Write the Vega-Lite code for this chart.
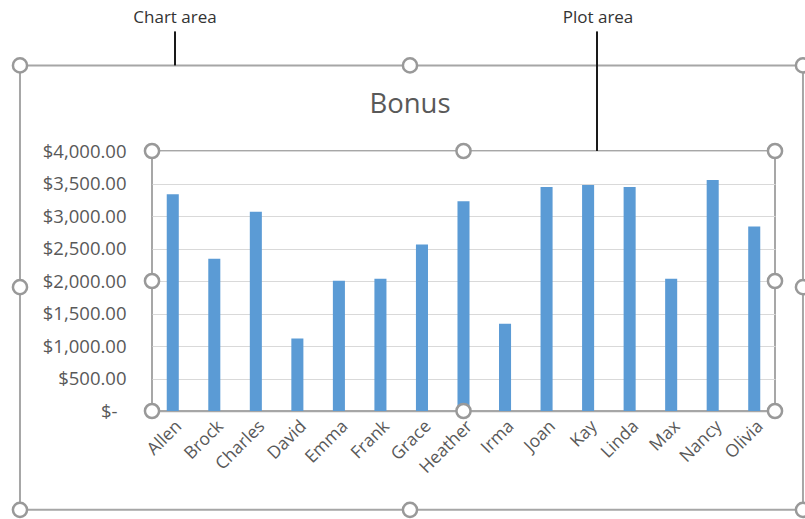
{
  "$schema": "https://vega.github.io/schema/vega-lite/v6.json",
  "width": 623,
  "height": 260,
  "autosize": {"type": "none"},
  "padding": {"left": 152, "top": 151, "right": 30, "bottom": 108},
  "background": "white",
  "config": {
    "view": {"stroke": "#8a8a8a", "strokeWidth": 1.5},
    "font": "Open Sans"
  },
  "datasets": {
    "bonus": [
      {"name": "Allen", "bonus": 3335},
      {"name": "Brock", "bonus": 2341},
      {"name": "Charles", "bonus": 3064},
      {"name": "David", "bonus": 1117},
      {"name": "Emma", "bonus": 2003},
      {"name": "Frank", "bonus": 2034},
      {"name": "Grace", "bonus": 2561},
      {"name": "Heather", "bonus": 3227},
      {"name": "Irma", "bonus": 1342},
      {"name": "Joan", "bonus": 3448},
      {"name": "Kay", "bonus": 3478},
      {"name": "Linda", "bonus": 3448},
      {"name": "Max", "bonus": 2034},
      {"name": "Nancy", "bonus": 3555},
      {"name": "Olivia", "bonus": 2838}
    ],
    "handles": [
      {"x": 0, "y": 0}, {"x": 0.5, "y": 0}, {"x": 1, "y": 0},
      {"x": 0, "y": 2000}, {"x": 1, "y": 2000},
      {"x": 0, "y": 4000}, {"x": 0.5, "y": 4000}, {"x": 1, "y": 4000},
      {"x": -0.2119, "y": 5317}, {"x": 0.4141, "y": 5317}, {"x": 1.0449, "y": 5317},
      {"x": -0.2119, "y": 1905}, {"x": 1.0449, "y": 1905},
      {"x": -0.2119, "y": -1521}, {"x": 0.4141, "y": -1521}, {"x": 1.0449, "y": -1521}
    ],
    "frame": [
      {"x": -0.2119, "x2": 1.0449, "y": -1521, "y2": 5317}
    ],
    "pointers": [
      {"x": 0.0369, "y": 5317, "y2": 5840},
      {"x": 0.7143, "y": 4000, "y2": 5840}
    ],
    "labels": [
      {"x": 0.0369, "y": 6039, "text": "Chart area"},
      {"x": 0.7159, "y": 6039, "text": "Plot area"}
    ],
    "title": [
      {"x": 0.4141, "y": 4579, "text": "Bonus"}
    ]
  },
  "layer": [
    {
      "data": {"name": "bonus"},
      "mark": {"type": "bar", "color": "#5b9bd5"},
      "encoding": {
        "x": {
          "field": "name",
          "type": "nominal",
          "sort": null,
          "scale": {"paddingInner": 0.71, "paddingOuter": 0.355},
          "axis": {
            "title": null,
            "labelAngle": -45,
            "labelFontSize": 17.5,
            "labelColor": "#595959",
            "ticks": false,
            "labelPadding": 6,
            "domainColor": "#a6a6a6",
            "domainWidth": 1.5
          }
        },
        "y": {
          "field": "bonus",
          "type": "quantitative",
          "scale": {"domain": [0, 4000], "nice": false},
          "axis": {
            "title": null,
            "values": [0, 500, 1000, 1500, 2000, 2500, 3000, 3500, 4000],
            "labelExpr": "datum.value == 0 ? '$-' : '$' + format(datum.value, ',.2f')",
            "labelFontSize": 18.5,
            "labelColor": "#595959",
            "ticks": false,
            "domain": false,
            "labelPadding": {"condition": {"test": "datum.value == 0", "value": 35}, "value": 26},
            "gridColor": "#d9d9d9",
            "gridWidth": 1.2
          }
        }
      }
    },
    {
      "data": {"name": "frame"},
      "mark": {"type": "rect", "fillOpacity": 0, "stroke": "#a6a6a6", "strokeWidth": 2},
      "encoding": {
        "x": {"field": "x", "type": "quantitative", "scale": {"domain": [0, 1], "nice": false, "zero": false}, "axis": null},
        "x2": {"field": "x2"},
        "y": {"field": "y", "type": "quantitative", "scale": {"domain": [0, 4000], "nice": false, "zero": false}, "axis": null},
        "y2": {"field": "y2"}
      }
    },
    {
      "data": {"name": "pointers"},
      "mark": {"type": "rule", "stroke": "#1a1a1a", "strokeWidth": 2},
      "encoding": {
        "x": {"field": "x", "type": "quantitative", "scale": {"domain": [0, 1], "nice": false, "zero": false}, "axis": null},
        "y": {"field": "y", "type": "quantitative", "scale": {"domain": [0, 4000], "nice": false, "zero": false}, "axis": null},
        "y2": {"field": "y2"}
      }
    },
    {
      "data": {"name": "handles"},
      "mark": {"type": "point", "shape": "circle", "size": 200, "filled": true, "fill": "white", "stroke": "#999999", "strokeWidth": 2.5, "opacity": 1},
      "encoding": {
        "x": {"field": "x", "type": "quantitative", "scale": {"domain": [0, 1], "nice": false, "zero": false}, "axis": null},
        "y": {"field": "y", "type": "quantitative", "scale": {"domain": [0, 4000], "nice": false, "zero": false}, "axis": null}
      }
    },
    {
      "data": {"name": "labels"},
      "mark": {"type": "text", "fontSize": 17, "color": "#333333", "align": "center", "baseline": "middle"},
      "encoding": {
        "x": {"field": "x", "type": "quantitative", "scale": {"domain": [0, 1], "nice": false, "zero": false}, "axis": null},
        "y": {"field": "y", "type": "quantitative", "scale": {"domain": [0, 4000], "nice": false, "zero": false}, "axis": null},
        "text": {"field": "text"}
      }
    },
    {
      "data": {"name": "title"},
      "mark": {"type": "text", "fontSize": 27.5, "color": "#595959", "align": "center", "baseline": "alphabetic"},
      "encoding": {
        "x": {"field": "x", "type": "quantitative", "scale": {"domain": [0, 1], "nice": false, "zero": false}, "axis": null},
        "y": {"field": "y", "type": "quantitative", "scale": {"domain": [0, 4000], "nice": false, "zero": false}, "axis": null},
        "text": {"field": "text"}
      }
    }
  ],
  "resolve": {"scale": {"x": "independent", "y": "independent"}}
}
